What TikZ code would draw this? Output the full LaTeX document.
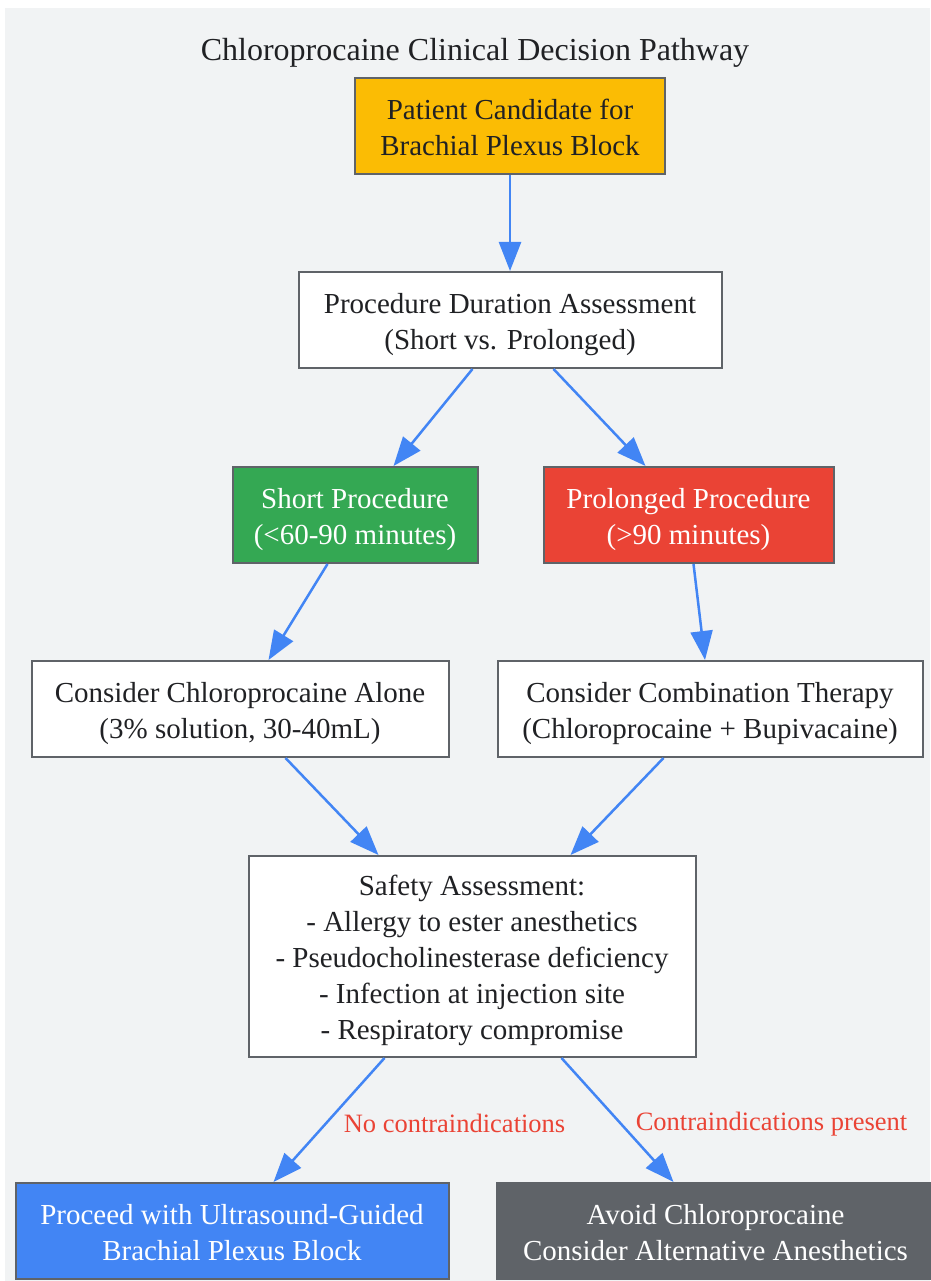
\documentclass[tikz,border=0pt]{standalone}
\usepackage{fontspec}
\setmainfont{Liberation Serif}
\usetikzlibrary{arrows.meta}
\usetikzlibrary{positioning}
\definecolor{pagegray}{HTML}{F1F3F4}
\definecolor{inkgray}{HTML}{202124}
\definecolor{edgegray}{HTML}{5F6368}
\definecolor{flowblue}{HTML}{4285F4}
\definecolor{alertred}{HTML}{EA4335}
\definecolor{okgreen}{HTML}{34A853}
\definecolor{warnyellow}{HTML}{FBBC04}

\begin{document}
\begin{tikzpicture}[
				x=1pt, y=1pt,
				node distance=96pt,
				arrow/.style={line width=2.5pt, flowblue, -{Triangle[length=29pt, width=22pt]}},
				block/.style={draw=edgegray, line width=2pt, fill=white, text=inkgray, minimum height=96pt, align=center, font=\fontsize{29}{36}\selectfont, text height=65.8pt, text depth=6.2pt},
				cond/.style={text=alertred, font=\fontsize{26.5}{32}\selectfont, inner sep=0pt, anchor=west},
			]
				\useasboundingbox (0,0) rectangle (930,-1281);
				\fill[white] (0,0) rectangle (930,-1281);
				\fill[pagegray] (5,-8) rectangle (930,-1281);

				\node[text=inkgray, font=\fontsize{32}{38}\selectfont] (title) at (475,-53) {Chloroprocaine Clinical Decision Pathway};
				\node[block, fill=warnyellow, minimum width=310pt] (candidate) at (510,-126) {Patient Candidate for\\Brachial Plexus Block};
				\node[block, minimum width=423pt, below=96pt of candidate] (duration) {Procedure Duration Assessment\\(Short vs. Prolonged)};
				\node[block, fill=okgreen, text=white, minimum width=245pt, below=97pt of duration, xshift=-155pt] (short) {Short Procedure\\(<60-90 minutes)};
				\node[block, fill=alertred, text=white, minimum width=290pt, below=97pt of duration, xshift=178.5pt] (prolonged) {Prolonged Procedure\\(>90 minutes)};
				\node[block, minimum width=417pt, below=96pt of short, xshift=-115pt] (alone) {Consider Chloroprocaine Alone\\(3\% solution, 30-40mL)};
				\node[block, minimum width=425pt, below=96pt of prolonged, xshift=21.5pt] (combo) {Consider Combination Therapy\\(Chloroprocaine + Bupivacaine)};
				\node[block, minimum width=447pt, minimum height=201pt, text height=172.8pt, text depth=7.2pt, below=97pt of alone, xshift=232pt] (safety) {Safety Assessment:\\- Allergy to ester anesthetics\\- Pseudocholinesterase deficiency\\- Infection at injection site\\- Respiratory compromise};
				\node[block, fill=flowblue, text=white, minimum width=433pt, below=124pt of safety, xshift=-240pt] (proceed) {Proceed with Ultrasound-Guided\\Brachial Plexus Block};
				\node[block, fill=edgegray, text=white, minimum width=438pt, below=124pt of safety, xshift=243.5pt] (avoid) {Avoid Chloroprocaine\\Consider Alternative Anesthetics};

				\draw[arrow] (candidate) -- (duration);
				\draw[arrow] ([xshift=-37.5pt]duration.south) -- ([xshift=38.5pt]short.north);
				\draw[arrow] ([xshift=43.5pt]duration.south) -- ([xshift=-43pt]prolonged.north);
				\draw[arrow] ([xshift=-27.5pt]short.south) -- ([xshift=28.5pt]alone.north);
				\draw[arrow] ([xshift=5pt]prolonged.south) -- ([xshift=-5pt]combo.north);
				\draw[arrow] ([xshift=45.5pt]alone.south) -- ([xshift=-93.5pt]safety.north);
				\draw[arrow] ([xshift=-46.5pt]combo.south) -- ([xshift=98.5pt]safety.north);
				\draw[arrow] ([xshift=-87.5pt]safety.south) -- ([xshift=41.5pt]proceed.north) node[cond, midway, xshift=13.5pt, yshift=-3pt] {No contraindications};
				\draw[arrow] ([xshift=89.5pt]safety.south) -- ([xshift=-42pt]avoid.north) node[cond, midway, xshift=17pt, yshift=-4pt] {Contraindications present};
			\end{tikzpicture}
\end{document}
